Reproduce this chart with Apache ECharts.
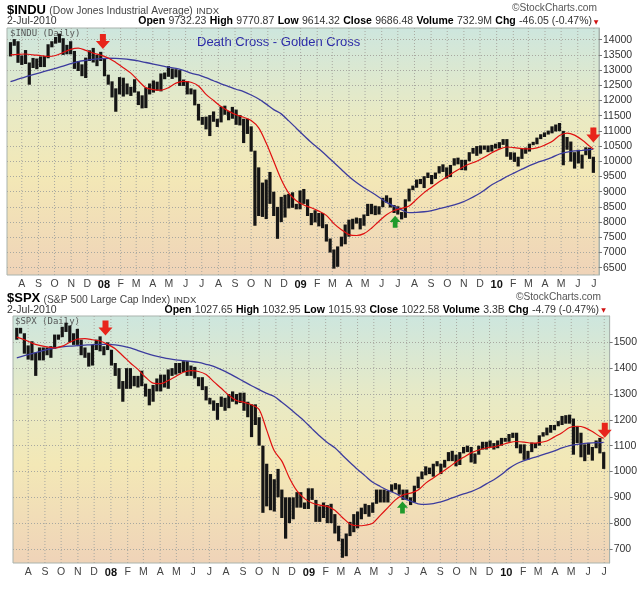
<!DOCTYPE html>
<html><head><meta charset="utf-8">
<script src="https://cdn.jsdelivr.net/npm/echarts@6.0.0/dist/echarts.min.js"></script>
<style>html,body{margin:0;padding:0;background:#fff}#c{width:640px;height:589px}</style>
</head><body><div id="c"></div>
<script>
// ---- weekly bars: week i is centred on 2007-07-11 + 7*i (days since 2007-07-01) ----
const firstWeekDay = 10;
const indu_lo = [13450,13800,13240,13170,13200,12520,13070,13030,13100,13100,
13390,13750,13870,13900,13500,13520,13520,13040,12970,12800,
12740,13300,13250,13130,13300,
12800,12520,12100,11630,12200,12130,12200,12150,12260,11850,
11740,11750,12200,12260,12320,12300,12700,12780,12710,12760,
12480,12480,12200,12200,11840,11340,11200,11050,10830,11300,
11130,11280,11530,11350,11400,11200,11180,10600,10900,10320,
7880,8200,8170,8100,8600,8200,7450,8000,8150,8450,
8470,8420,
8420,8600,8200,7900,7990,7860,7800,7360,7000,6470,
6530,7200,7270,7520,7760,7950,7760,7880,8200,8260,
8230,8250,8490,8640,8480,8300,8250,8090,8140,8680,
9050,9130,9250,9120,9450,9250,9420,9600,9650,9430,
9480,9860,9900,9710,9700,10000,10250,10180,10250,10380,
10300,10320,10420,
10420,10540,10150,10050,9980,9830,10080,10250,10320,10530,
10560,10730,10800,10880,10920,10980,10990,9870,10380,9990,
9760,9930,9760,10200,10080,9620];
const indu_hi = [13920,14020,13950,13480,13660,13250,13400,13380,13450,13460,
13850,13950,14090,14200,14050,13830,13950,13630,13300,13190,
13410,13650,13730,13500,13600,
13370,12850,12630,12400,12770,12750,12560,12450,12700,12300,
12170,12430,12560,12660,12620,12890,12920,13130,13050,13030,
13000,12690,12640,12400,12360,11890,11460,11470,11520,11640,
11400,11800,11830,11650,11790,11700,11520,11400,11400,11150,
10350,9800,9300,9400,9650,9000,8500,8830,8900,8930,
8980,8600,
9040,9090,8750,8300,8390,8300,8300,7930,7460,7100,
7200,7520,7920,8080,8110,8150,8130,8250,8600,8600,
8540,8520,8800,8880,8800,8560,8520,8330,8750,9100,
9200,9400,9420,9510,9630,9550,9630,9840,9900,9800,
9880,10100,10120,10050,10050,10300,10440,10500,10520,10520,
10520,10540,10580,
10630,10730,10730,10300,10290,10150,10410,10450,10580,10640,
10780,10890,10950,11010,11150,11210,11260,11000,10800,10650,
10300,10380,10220,10460,10450,10150];
const spx_lo = [1510,1534,1456,1433,1430,1370,1430,1430,1450,1440,
1475,1510,1520,1540,1500,1490,1490,1450,1440,1406,
1410,1470,1465,1450,1470,
1410,1370,1320,1270,1320,1320,1330,1325,1330,1290,
1256,1270,1310,1310,1325,1320,1370,1375,1380,1385,
1370,1370,1360,1330,1315,1275,1260,1235,1200,1250,
1235,1245,1270,1260,1265,1235,1210,1133,1180,1100,
840,865,850,845,900,820,740,800,815,860,
860,855,
855,890,805,805,820,800,800,760,730,666,
672,750,765,780,815,835,825,840,875,880,
880,880,920,930,910,890,890,870,880,935,
970,985,990,980,1020,990,1015,1040,1040,1020,
1025,1070,1075,1035,1030,1065,1085,1085,1095,1085,
1090,1100,1115,
1115,1130,1090,1070,1045,1045,1075,1090,1100,1135,
1140,1150,1160,1175,1180,1185,1185,1065,1110,1055,
1040,1065,1042,1090,1070,1010];
const spx_hi = [1556,1556,1535,1488,1504,1460,1480,1480,1480,1485,
1530,1530,1560,1576,1565,1535,1552,1510,1480,1460,
1490,1510,1523,1485,1500,
1471,1420,1400,1350,1400,1400,1370,1370,1390,1340,
1320,1335,1360,1375,1375,1395,1400,1420,1420,1427,
1427,1410,1405,1365,1365,1330,1285,1275,1265,1290,
1285,1300,1310,1300,1305,1305,1270,1260,1260,1210,
1100,1030,990,970,1010,930,900,900,900,920,
920,880,
935,935,890,865,880,870,875,835,790,740,
760,805,835,845,860,875,870,880,930,930,
930,925,950,955,950,930,930,900,945,980,
1000,1020,1015,1030,1040,1030,1045,1075,1080,1065,
1075,1095,1100,1095,1070,1100,1115,1115,1120,1110,
1120,1130,1130,
1145,1150,1150,1105,1105,1080,1112,1110,1140,1152,
1170,1180,1180,1195,1215,1218,1220,1205,1175,1150,
1105,1110,1095,1120,1130,1075];

// ---- moving averages, read every second week (weeks 0,2,...,154) plus the last week ----
const indu_ma200 = [12620,12700,12780,12850,12920,12990,13060,13130,13210,13280,
13320,13350,13375,13390,13385,13370,13340,13300,13250,13200,
13150,13100,13060,12990,12900,12840,12750,12650,12550,12460,
12370,12290,12180,12050,11880,11700,11560,11330,11090,10850,
10620,10410,10190,9960,9730,9500,9300,9130,8980,8820,
8650,8520,8400,8310,8320,8340,8380,8440,8500,8570,
8650,8760,8890,9050,9230,9360,9500,9620,9740,9860,
9960,10040,10130,10240,10300,10340,10360,10385,
10400];
const indu_ma50 = [13500,13520,13530,13500,13480,13450,13480,13580,13680,13720,
13650,13560,13490,13400,13250,13080,12900,12650,12420,12360,
12340,12420,12570,12630,12600,12480,12200,12000,11800,11650,
11530,11450,11340,11100,10600,10000,9400,8950,8700,8560,
8470,8360,8220,7950,7750,7590,7560,7620,7800,8030,
8240,8380,8450,8530,8750,8970,9150,9330,9480,9650,
9790,9910,10000,10130,10280,10400,10470,10450,10420,10410,
10440,10530,10650,10850,10930,10860,10700,10500,
10400];
const spx_ma200 = [1440,1448,1456,1464,1472,1478,1482,1485,1487,1489,
1491,1492,1492,1490,1485,1478,1468,1458,1449,1443,
1437,1432,1429,1426,1422,1415,1407,1394,1380,1364,
1348,1332,1317,1302,1290,1268,1245,1220,1194,1165,
1137,1112,1092,1063,1035,1008,983,958,942,927,
915,898,885,875,873,876,882,892,903,913,
922,935,952,968,988,1012,1030,1042,1052,1060,
1070,1080,1091,1100,1105,1109,1111,1112,
1113];
const spx_ma50 = [1520,1510,1497,1488,1482,1478,1485,1500,1512,1514,
1510,1505,1492,1475,1448,1420,1395,1365,1342,1340,
1352,1368,1384,1390,1387,1375,1348,1322,1295,1275,
1268,1258,1240,1160,1080,1040,975,925,895,878,
870,865,850,822,797,790,792,800,830,860,
890,909,916,928,955,975,995,1015,1037,1055,
1072,1083,1091,1095,1103,1112,1116,1114,1110,1112,
1118,1134,1150,1170,1175,1170,1155,1135,
1128];

// ---- arrows: [date, value, direction] ----
const indu_arrows = [['2007-12-30',13940,'down'],['2009-06-26',8013,'up'],['2010-06-30',10865,'down']];
const spx_arrows  = [['2007-12-22',1555,'down'],['2009-06-23',861,'up'],['2010-07-02',1160,'down']];

// ---- axis ticks ----
const indu_ticks = [6500,7000,7500,8000,8500,9000,9500,10000,10500,11000,11500,12000,12500,13000,13500,14000];
const spx_ticks = [700,800,900,1000,1100,1200,1300,1400,1500];
const monthLetters = ['J','F','M','A','M','J','J','A','S','O','N','D'];

const DAY0 = Date.UTC(2007,6,1);
const dayOfStr = s => (Date.parse(s+'T00:00:00Z') - DAY0)/86400000;
const monthTicks = [], monthLabel = {};
for (let y=2007, m=7; !(y===2010 && m===7); ) {
  const d = (Date.UTC(y,m,1)-DAY0)/86400000;
  monthTicks.push(d);
  monthLabel[d] = m===0 ? '{y|'+String(y).slice(2)+'}' : monthLetters[m];
  m++; if (m===12) { m=0; y++; }
}
const maWeeks = [];
for (let w=0; w<=154; w+=2) maWeeks.push(w);
maWeeks.push(155);

const barData = (lo,hi) => lo.map((v,i)=>[firstWeekDay+7*i, v, hi[i]]);
const maData = arr => arr.map((v,k)=>[firstWeekDay+7*maWeeks[k], v]);

const DOWN = 'path://M4,0L10,0L10,7L14,7L7,15L0,7L4,7Z';
const UP = 'path://M4,15L10,15L10,8L14,8L7,0L0,8L4,8Z';
const arrowMarks = arr => arr.map(a => ({
  coord:[dayOfStr(a[0]), a[1]],
  symbol: a[2]==='down'?DOWN:UP,
  symbolSize: a[2]==='down'?[14,15]:[11,12],
  itemStyle:{color: a[2]==='down'?'#e8241b':'#1f9a2b'}
}));

const bg = () => new echarts.graphic.LinearGradient(0,0,0,1,[
  {offset:0,color:'#cde6de'},{offset:0.35,color:'#e9eac4'},
  {offset:0.6,color:'#f3e8b6'},{offset:1,color:'#efd3b8'}]);

const FONT = 'Liberation Sans';
const GRIDCOL = '#a8a8a0';
function xAxis(g, min, max){
  return {gridIndex:g, type:'value', min, max,
    axisLine:{show:false}, axisTick:{show:false}, splitLine:{show:false},
    axisLabel:{customValues: monthTicks, formatter: v => monthLabel[v] || '',
      fontSize:10.5, color:'#444', fontFamily:FONT, margin:4,
      rich:{y:{fontWeight:'bold', fontSize:11, color:'#111', fontFamily:FONT}}}};
}
function yAxis(g, min, max, ticks, split){
  return {gridIndex:g, type:'value', position:'right', min, max, splitNumber:split,
    axisLine:{show:true, lineStyle:{color:'#a9b3ad'}},
    axisTick:{show:true, length:3, customValues:ticks, lineStyle:{color:'#777'}},
    axisLabel:{customValues:ticks, formatter: v => String(v), fontSize:10.5, color:'#333', fontFamily:FONT, margin:4},
    splitLine:{show:true, lineStyle:{type:[1,2], color:GRIDCOL, width:1}}};
}
const gridSeries = (g, yv) => ({type:'custom', xAxisIndex:g, yAxisIndex:g, silent:true, z:1,
  data: monthTicks.map(d=>[d, yv]), encode:{x:0, y:1},
  renderItem:(p,api)=>{const cs=p.coordSys; const x=api.coord([api.value(0), api.value(1)])[0];
    return {type:'line', shape:{x1:x,y1:cs.y,x2:x,y2:cs.y+cs.height}, style:{stroke:GRIDCOL, lineDash:[1,2], lineWidth:1, fill:null}};}});
const priceSeries = (g, data) => ({type:'custom', xAxisIndex:g, yAxisIndex:g, z:3, silent:true, clip:true,
  data, encode:{x:0, y:[1,2]},
  renderItem:(p,api)=>{const x=api.value(0);
    const a=api.coord([x, api.value(2)]), b=api.coord([x, api.value(1)]);
    return {type:'rect', shape:{x:a[0]-1.6, y:a[1], width:3.2, height:Math.max(1,b[1]-a[1])}, style:{fill:'#151515'}};}});
const lineSeries = (g, data, color, w, z, marks) => ({type:'line', xAxisIndex:g, yAxisIndex:g, data, z,
  showSymbol:false, smooth:0.3, silent:true, lineStyle:{color, width:w},
  markPoint: marks ? {silent:true, label:{show:false}, data: marks} : undefined});

function txt(x,y,text,rich,align){
  return {type:'text', silent:true, style:{x,y,text,rich,align:align||'left',verticalAlign:'middle',fontFamily:FONT}};
}
const hdrRich = {a:{fontSize:13,fontWeight:'bold',fill:'#000',fontFamily:FONT,verticalAlign:'bottom'},
                 b:{fontSize:10.3,fill:'#444',fontFamily:FONT,verticalAlign:'bottom'},
                 c:{fontSize:9.6,fill:'#444',fontFamily:FONT,verticalAlign:'bottom'}};
const qRich = {k:{fontSize:10.5,fontWeight:'bold',fill:'#000',fontFamily:FONT},
               v:{fontSize:10.5,fill:'#333',fontFamily:FONT},
               d:{fontSize:10.5,fill:'#333',fontFamily:FONT}};
const smallRich = {s:{fontSize:10.2,fill:'#555',fontFamily:FONT}};
const monoRich = {m:{fontSize:9,fill:'#555',fontFamily:'DejaVu Sans Mono'}};

const chart = echarts.init(document.getElementById('c'), null, {renderer:'canvas'});
chart.setOption({
  animation:false,
  backgroundColor:'#fff',
  grid:[
    {left:7, top:28, width:592, height:247, show:true, backgroundColor:bg(), borderColor:'#a9b3ad', borderWidth:1},
    {left:13, top:316, width:597, height:247, show:true, backgroundColor:bg(), borderColor:'#a9b3ad', borderWidth:1}
  ],
  xAxis:[xAxis(0, 3.5, 1105.5), xAxis(1, 3, 1106)],
  yAxis:[yAxis(0, 6259.9, 14384.9, indu_ticks, 16), yAxis(1, 645.8, 1601.8, spx_ticks, 10)],
  series:[
    gridSeries(0, 10000), gridSeries(1, 1000),
    priceSeries(0, barData(indu_lo, indu_hi)),
    priceSeries(1, barData(spx_lo, spx_hi)),
    lineSeries(0, maData(indu_ma200), '#3c3c9e', 1.3, 4),
    lineSeries(0, maData(indu_ma50), '#e01010', 1.2, 5, arrowMarks(indu_arrows)),
    lineSeries(1, maData(spx_ma200), '#3c3c9e', 1.3, 4),
    lineSeries(1, maData(spx_ma50), '#e01010', 1.2, 5, arrowMarks(spx_arrows))
  ],
  graphic:[
    txt(7,10,'{a|$INDU} {b|(Dow Jones Industrial Average)} {c|INDX}',hdrRich),
    txt(7,21.5,'{d|2-Jul-2010}',qRich),
    txt(592,21.5,'{k|Open} {v|9732.23} {k|High} {v|9770.87} {k|Low} {v|9614.32} {k|Close} {v|9686.48} {k|Volume} {v|732.9M} {k|Chg} {v|-46.05 (-0.47%)}',qRich,'right'),
    {type:'text', silent:true, style:{x:596,y:22,text:'▼',fill:'#d01010',fontSize:6,fontFamily:'DejaVu Sans',align:'center',verticalAlign:'middle'}},
    txt(597,8,'{s|©StockCharts.com}',smallRich,'right'),
    txt(10,34,'{m|$INDU (Daily)}',monoRich),
    {type:'text', silent:true, style:{x:197,y:42,text:'Death Cross - Golden Cross',fill:'#2a2aa8',fontSize:13,fontFamily:FONT,verticalAlign:'middle'}},

    txt(7,298.5,'{a|$SPX} {b|(S&P 500 Large Cap Index)} {c|INDX}',hdrRich),
    txt(7,310,'{d|2-Jul-2010}',qRich),
    txt(599,310,'{k|Open} {v|1027.65} {k|High} {v|1032.95} {k|Low} {v|1015.93} {k|Close} {v|1022.58} {k|Volume} {v|3.3B} {k|Chg} {v|-4.79 (-0.47%)}',qRich,'right'),
    {type:'text', silent:true, style:{x:603.5,y:310.5,text:'▼',fill:'#d01010',fontSize:6,fontFamily:'DejaVu Sans',align:'center',verticalAlign:'middle'}},
    txt(601,297,'{s|©StockCharts.com}',smallRich,'right'),
    txt(15,322,'{m|$SPX (Daily)}',monoRich)
  ]
});
</script>
</body></html>
